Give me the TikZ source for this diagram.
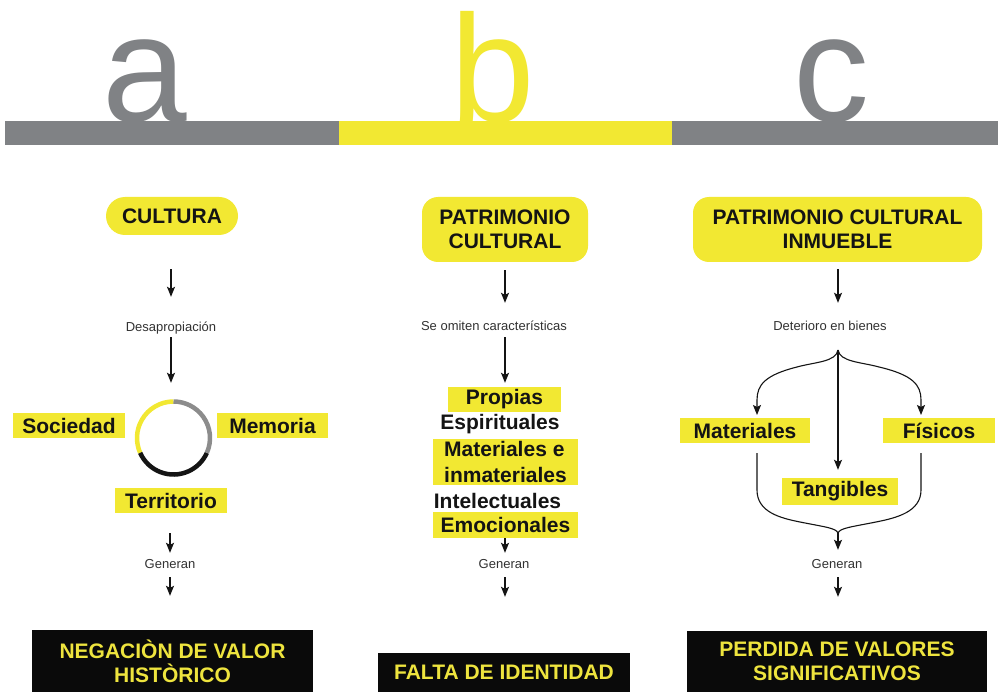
\documentclass[tikz,border=0pt]{standalone}
\usepackage{fontspec}
\setmainfont{Liberation Sans}
\usetikzlibrary{arrows.meta}
\definecolor{ylw}{RGB}{242,232,50}
\definecolor{bargray}{RGB}{128,130,133}
\definecolor{ringgray}{RGB}{140,140,140}
\definecolor{txtblack}{RGB}{20,20,20}
\definecolor{smalltxt}{RGB}{50,50,50}
\definecolor{boxblack}{RGB}{10,10,10}
\definecolor{boxtxt}{RGB}{238,228,62}
\tikzset{
  bigletter/.style={anchor=base, inner sep=0pt, font=\fontsize{152}{152}\selectfont},
  ybox/.style={fill=ylw, inner sep=0pt, text=txtblack, font=\bfseries\fontsize{21}{26}\selectfont},
  headbox/.style={fill=ylw, inner sep=0pt, text=txtblack, align=center, font=\bfseries\fontsize{21}{24}\selectfont},
  plainlbl/.style={inner sep=0pt, text=txtblack, font=\bfseries\fontsize{21}{26}\selectfont},
  smalllbl/.style={inner sep=0pt, text height=9.5pt, text depth=2.5pt, text=smalltxt, font=\fontsize{13}{15}\selectfont},
  blkbox/.style={fill=boxblack, inner sep=0pt, text=boxtxt, align=center, font=\bfseries\fontsize{21}{24}\selectfont},
  arr/.style={draw=txtblack, line width=1.1pt, -{Stealth[length=10pt,width=8pt,inset=2pt]}},
  brace/.style={draw=txtblack, line width=1.1pt},
}
\begin{document}
\begin{tikzpicture}[x=1pt,y=-1pt]
\useasboundingbox (0,0) rectangle (998,692);
\fill[white] (0,0) rectangle (998,692);
% header letters
\node[bigletter, text=bargray] (la) at (145,122) {a};
\node[bigletter, text=ylw] (lb) at (493,122) {b};
\node[bigletter, text=bargray] (lc) at (831,122) {c};
% bar
\fill[bargray] (5,121) rectangle (339,145);
\fill[ylw] (339,121) rectangle (672,145);
\fill[bargray] (672,121) rectangle (998,145);

% ---------------- column a
\node[headbox, minimum width=132, minimum height=38, rounded corners=19] (cultura) at (172,216) {CULTURA};
\node[smalllbl] (desap) at (171,328) {Desapropiación};
\node[minimum size=73, inner sep=0pt] (ring) at (173.5,438) {};
\draw[ylw, line width=4.5pt] (ring.center) ++(-90:36.5) arc[start angle=-90, end angle=-204, radius=36.5];
\draw[txtblack, line width=4.5pt] (ring.center) ++(-204:36.5) arc[start angle=-204, end angle=-336, radius=36.5];
\draw[ringgray, line width=4.5pt] (ring.center) ++(-336:36.5) arc[start angle=-336, end angle=-450, radius=36.5];
\node[ybox, minimum width=112, minimum height=25] (soc) at (69,425.5) {Sociedad};
\node[ybox, minimum width=111, minimum height=25] (mem) at (272.5,425.5) {Memoria};
\node[ybox, minimum width=112, minimum height=25] (terr) at (171,500.5) {Territorio};
\node[smalllbl] (gen1) at (170,565) {Generan};
\node[blkbox, minimum width=281, minimum height=62] (neg) at (172.5,661) {NEGACIÒN DE VALOR\\HISTÒRICO};
\draw[arr, shorten <=34pt, shorten >=25pt] (cultura.south -| desap.north) -- (desap.north);
\draw[arr, shorten <=3pt, shorten >=18.5pt] (desap.south) -- (desap.south |- ring.north);
\draw[arr, shorten <=20pt, shorten >=6pt] (terr.south -| gen1.north) -- (gen1.north);
\draw[arr, shorten <=6pt, shorten >=34pt] (gen1.south) -- (gen1.south |- neg.north);

% ---------------- column b
\node[headbox, minimum width=166, minimum height=65, rounded corners=16] (pat) at (505,229.5) {PATRIMONIO\\CULTURAL};
\node[smalllbl] (omit) at (494,327) {Se omiten características};
\node[ybox, minimum width=113, minimum height=25] (prop) at (504.5,399.5) {Propias};
\node[plainlbl] (espi) at (500,424) {Espirituales};
\node[ybox, minimum width=145, minimum height=46, align=left] (matin) at (505.5,462) {Materiales e\\inmateriales};
\node[plainlbl] (intel) at (497.5,501) {Intelectuales};
\node[ybox, minimum width=145, minimum height=26] (emoc) at (505.5,525) {Emocionales};
\node[smalllbl] (gen2) at (504,565) {Generan};
\node[blkbox, minimum width=252, minimum height=39] (falta) at (504,672.5) {FALTA DE IDENTIDAD};
\draw[arr, shorten <=8pt, shorten >=18pt] (pat.south) -- (pat.south |- omit.north);
\draw[arr, shorten <=4pt, shorten >=4pt] (omit.south -| pat.south) -- (prop.north -| pat.south);
\draw[arr, shorten >=6pt] (emoc.south -| pat.south) -- (gen2.north -| pat.south);
\draw[arr, shorten <=6pt, shorten >=56pt] (gen2.south -| pat.south) -- (falta.north -| pat.south);

% ---------------- column c
\node[headbox, minimum width=289, minimum height=65, rounded corners=16] (pci) at (837.5,229.5) {PATRIMONIO CULTURAL\\INMUEBLE};
\node[smalllbl] (deter) at (830,327) {Deterioro en bienes};
\node[ybox, minimum width=130, minimum height=25] (mat) at (745,430.5) {Materiales};
\node[ybox, minimum width=112, minimum height=25] (fis) at (939,430.5) {Físicos};
\node[ybox, minimum width=116, minimum height=27] (tang) at (840,491.5) {Tangibles};
\node[smalllbl] (gen3) at (837,565) {Generan};
\node[blkbox, minimum width=300, minimum height=61] (perd) at (837,661.5) {PERDIDA DE VALORES\\SIGNIFICATIVOS};
\coordinate (split) at (838,350);
\coordinate (joinc) at (838,533);
\coordinate (lbr) at (757,453);
\coordinate (rbr) at (921,453);
\draw[arr, shorten <=7pt, shorten >=18pt] (pci.south -| split) -- (deter.north -| split);
\draw[arr] (split) .. controls (836,362) and (815,362) .. (797,367) .. controls (765,375) and (757,385) .. (757,400) -- (757,415);
\draw[arr] (split) .. controls (840,362) and (861,362) .. (879,367) .. controls (913,375) and (921,385) .. (921,400) -- (921,415);
\draw[arr, shorten >=8pt] (split) -- (split |- tang.north);
\draw[brace] (lbr) -- (757,490) .. controls (757,512) and (780,518) .. (800,522) .. controls (825,527) and (836,528) .. (joinc);
\draw[brace] (rbr) -- (921,490) .. controls (921,512) and (896,518) .. (876,522) .. controls (851,527) and (840,528) .. (joinc);
\draw[arr, shorten >=9pt] (joinc) -- (joinc |- gen3.north);
\draw[arr, shorten <=6pt, shorten >=34pt] (gen3.south -| joinc) -- (perd.north -| joinc);
\end{tikzpicture}
\end{document}
